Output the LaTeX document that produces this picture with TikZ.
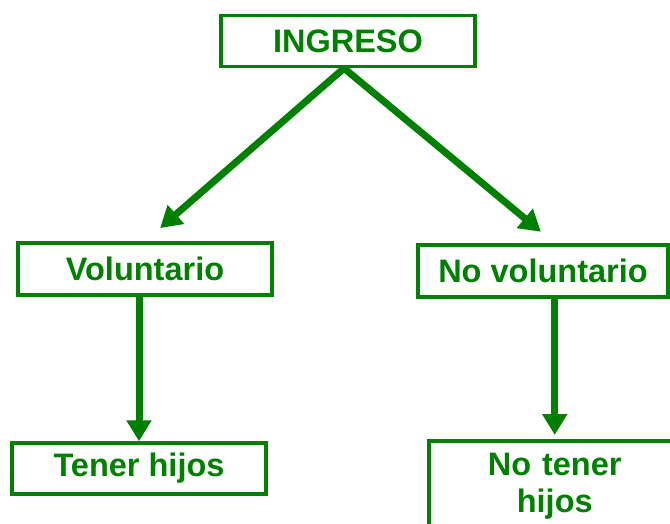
\documentclass[tikz,border=0pt]{standalone}
\usepackage{fontspec}
\setmainfont{Liberation Sans}
\usetikzlibrary{arrows.meta,calc}
\definecolor{ramo}{HTML}{008000}

\begin{document}
\begin{tikzpicture}[x=1pt,y=-1pt]
          \useasboundingbox (0,0) rectangle (670,524);
          \tikzset{caja/.style = {draw=ramo, line width=3.5pt, text=ramo,
                   font=\bfseries\fontsize{32.5}{37}\selectfont,
                   minimum width=254pt, minimum height=51pt, inner sep=0pt}};
          \tikzset{flecha/.style = {draw=ramo, line width=7pt,
                   -{Triangle[width=24pt,length=21pt]}}};

          % top level
          \node[caja] (ingreso) at (348,41) {INGRESO};

          % second level
          \node[caja, minimum height=52pt] (vol) at (145,269) {Voluntario};
          \node[caja, minimum width=250pt, minimum height=52pt] (novol) at (543,271) {No voluntario};

          % third level
          \node[caja] (tener) at (139,468.5) {Tener hijos};
          \node[caja, anchor=north west, minimum width=252pt, minimum height=90pt,
                text width=240pt, align=center] (notener) at (427,439) {No tener\\hijos};

          % branches
          \draw[flecha, shorten >=20pt] ([xshift=-4pt]ingreso.south) -- (vol.north);
          \draw[flecha, shorten >=18pt] ([xshift=-4pt]ingreso.south) -- (novol.north -| notener.north);
          \draw[flecha] (vol.south -| tener.north) -- (tener.north);
          \draw[flecha, shorten >=4pt] (novol.south -| notener.north) -- (notener.north);
        \end{tikzpicture}
\end{document}
